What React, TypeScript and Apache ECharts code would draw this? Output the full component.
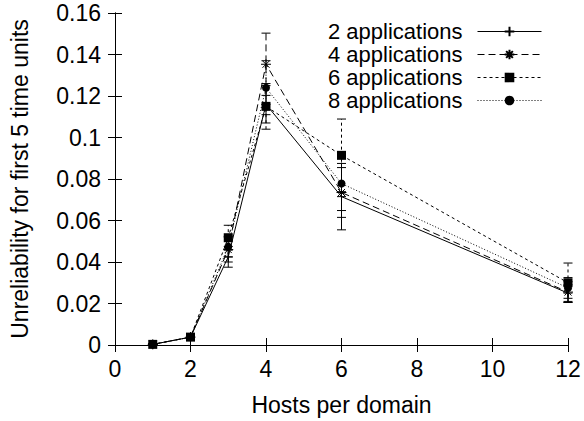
import React, { useEffect, useRef } from "react";
import * as echarts from "echarts";

const hosts = [1, 2, 3, 4, 6, 12];
const seriesNames = ["2 applications", "4 applications", "6 applications", "8 applications"];
const apps2 = [0.0003, 0.0038, 0.0425, 0.116, 0.0715, 0.025];
const apps4 = [0.0003, 0.0038, 0.046, 0.1353, 0.0735, 0.0255];
const apps6 = [0.0003, 0.0038, 0.0517, 0.115, 0.0914, 0.030];
const apps8 = [0.0003, 0.0038, 0.0474, 0.124, 0.0778, 0.0275];
const err2 = [0.0002, 0.0005, 0.005, 0.009, 0.016, 0.004];
const err4 = [0.0002, 0.0005, 0.006, 0.015, 0.012, 0.005];
const err6 = [0.0002, 0.0005, 0.006, 0.011, 0.0175, 0.0095];
const err8 = [0.0002, 0.0005, 0.005, 0.013, 0.013, 0.005];
const xTicks = [0, 2, 4, 6, 8, 10, 12];
const yTicks = [0, 0.02, 0.04, 0.06, 0.08, 0.1, 0.12, 0.14, 0.16];

const FONT = "'Liberation Sans', Arial, sans-serif";

export default function App() {
  const ref = useRef<HTMLDivElement>(null);
  useEffect(() => {
    if (!ref.current) return;
    document.body.style.margin = "0";
    const chart = echarts.init(ref.current, null, { renderer: "svg" });
    const values = [apps2, apps4, apps6, apps8];
    const errs = [err2, err4, err6, err8];
    const dashes: any[] = ["solid", [7, 4], [3, 3], [1, 2]];
    const symbols = [
      "path://M5,0L5,10M0,5L10,5",
      "path://M5,0L5,10M0,5L10,5M1.5,1.5L8.5,8.5M8.5,1.5L1.5,8.5",
      "rect",
      "circle",
    ];
    const sizes = [9, 10, 9, 8];

    const lineSeries = values.map((vals, i) => ({
      name: seriesNames[i],
      type: "line",
      data: hosts.map((h, j) => [h, vals[j]]),
      symbol: symbols[i],
      symbolSize: sizes[i],
      showSymbol: true,
      lineStyle: { color: "#000", width: 1, type: dashes[i] },
      itemStyle: {
        color: "#000",
        borderColor: "#000",
        borderWidth: i < 2 ? 1 : 0,
      },
      z: 3,
    }));

    const errSeries = values.map((vals, i) => ({
      name: seriesNames[i] + " err",
      type: "custom",
      data: hosts.map((h, j) => [h, vals[j] - errs[i][j], vals[j] + errs[i][j]]),
      encode: { x: 0, y: [1, 2] },
      renderItem: (params: any, api: any) => {
        const x = api.value(0);
        const lo = api.coord([x, api.value(1)]);
        const hi = api.coord([x, api.value(2)]);
        const w = 4.5;
        const st = {
          stroke: "#000",
          lineWidth: 1,
          lineDash: dashes[i] === "solid" ? null : dashes[i],
        };
        return {
          type: "group",
          children: [
            { type: "line", shape: { x1: lo[0], y1: lo[1], x2: hi[0], y2: hi[1] }, style: st },
            { type: "line", shape: { x1: lo[0] - w, y1: lo[1], x2: lo[0] + w, y2: lo[1] }, style: { stroke: "#000", lineWidth: 1 } },
            { type: "line", shape: { x1: hi[0] - w, y1: hi[1], x2: hi[0] + w, y2: hi[1] }, style: { stroke: "#000", lineWidth: 1 } },
          ],
        };
      },
      z: 2,
    }));

    const axisCommon = {
      type: "value",
      splitLine: { show: false },
      axisLine: { show: true, lineStyle: { color: "#000", width: 1 } },
      axisTick: { show: true, inside: true, length: 7, lineStyle: { color: "#000" } },
    };

    chart.setOption({
      animation: false,
      grid: { left: 115, right: 16, top: 13, bottom: 76, containLabel: false },
      legend: {
        orient: "vertical",
        right: 42,
        top: 20,
        padding: 0,
        align: "right",
        itemWidth: 64,
        itemHeight: 12,
        itemGap: 0,
        data: seriesNames,
        lineStyle: { width: 1 },
        textStyle: {
          fontFamily: FONT,
          fontSize: 22,
          color: "#000",
          lineHeight: 23,
          padding: [0, 10, 0, 0],
        },
      },
      xAxis: [
        {
          ...axisCommon,
          min: xTicks[0],
          max: xTicks[xTicks.length - 1],
          interval: 2,
          name: "Hosts per domain",
          nameLocation: "middle",
          nameGap: 48,
          nameTextStyle: { fontFamily: FONT, fontSize: 23, color: "#000" },
          axisLabel: { fontFamily: FONT, fontSize: 23, color: "#000", margin: 12 },
        },
        {
          ...axisCommon,
          position: "top",
          min: xTicks[0],
          max: xTicks[xTicks.length - 1],
          interval: 2,
          axisLabel: { show: false },
        },
      ],
      yAxis: [
        {
          ...axisCommon,
          min: yTicks[0],
          max: yTicks[yTicks.length - 1],
          interval: 0.02,
          name: "Unreliability for first 5 time units",
          nameLocation: "middle",
          nameGap: 84,
          nameTextStyle: { fontFamily: FONT, fontSize: 23, color: "#000" },
          axisLabel: {
            fontFamily: FONT,
            fontSize: 23,
            color: "#000",
            margin: 14,
            formatter: (v: number) => String(+v.toFixed(2)),
          },
        },
        {
          ...axisCommon,
          position: "right",
          min: yTicks[0],
          max: yTicks[yTicks.length - 1],
          interval: 0.02,
          axisLabel: { show: false },
        },
      ],
      series: [...errSeries, ...lineSeries],
    });
    return () => chart.dispose();
  }, []);
  return <div ref={ref} style={{ width: 584, height: 421 }} />;
}
